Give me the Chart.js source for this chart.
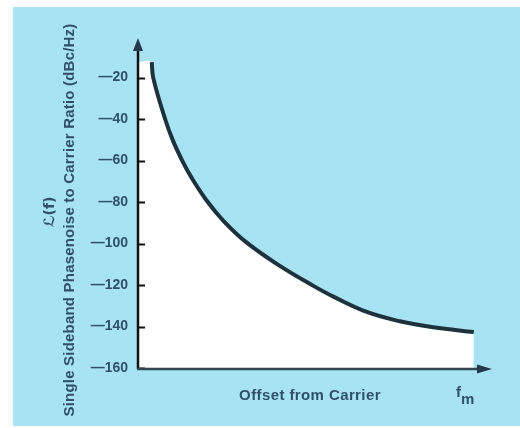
<!DOCTYPE html>
<html lang="en">
<head>
    <meta charset="UTF-8">
    <title>Phase noise</title>
    <script src="https://cdn.jsdelivr.net/npm/chart.js"></script>
    <style>
        body { margin: 0; background: #ffffff; }
        .panel { position: absolute; left: 13px; top: 7px; width: 507px; height: 419px; background: #a8e3f4; }
        #grafico { position: absolute; left: 0; top: 0; }
    </style>
</head>
<body>
    <div class="panel"></div>
    <canvas id="grafico" width="520" height="428"></canvas>

    <script>
        // offset from carrier (arbitrary linear units, 0..100) and L(f) in dBc/Hz
        const offsets = [3.9, 4.35, 7.7, 9.9, 12.7, 15.3, 19.6, 24.4, 30.9, 40.3, 49.7, 55.5, 65.0, 74.4, 83.9, 95.4];
        const noise = [-12.6, -20.3, -40, -50.3, -60.5, -68.5, -79.5, -89.3, -99.6, -110.8, -120.3, -125.6, -133, -137.5, -140.4, -142.7];
        const yTicks = [-20, -40, -60, -80, -100, -120, -140, -160];
        const yTitle = 'Single Sideband Phasenoise to Carrier Ratio (dBc/Hz)';
        const yTitle2 = 'ℒ(f)';
        const xTitle = 'Offset from Carrier';

        const textColor = '#30506a';

        const eixos = {
            id: 'eixos',
            afterDraw(chart) {
                const ctx = chart.ctx;
                const xs = chart.scales.x;
                const ys = chart.scales.y;
                const x0 = xs.getPixelForValue(0);
                const y0 = ys.getPixelForValue(-160);
                const yTop = ys.getPixelForValue(0) + 2;
                const xEnd = xs.getPixelForValue(100);
                ctx.save();

                // tick marks, inside the plot
                ctx.strokeStyle = '#111';
                ctx.lineWidth = 2;
                yTicks.forEach(v => {
                    const y = Math.round(ys.getPixelForValue(v)) + 0.5;
                    ctx.beginPath();
                    ctx.moveTo(x0, y);
                    ctx.lineTo(x0 + 7, y);
                    ctx.stroke();
                });

                // y axis
                ctx.lineWidth = 2.5;
                ctx.strokeStyle = '#111';
                ctx.beginPath();
                ctx.moveTo(x0, y0 + 1);
                ctx.lineTo(x0, yTop + 12);
                ctx.stroke();
                ctx.fillStyle = '#223a4c';
                ctx.beginPath();
                ctx.moveTo(x0, yTop);
                ctx.lineTo(x0 - 5, yTop + 13);
                ctx.lineTo(x0 + 5, yTop + 13);
                ctx.closePath();
                ctx.fill();

                // x axis
                ctx.strokeStyle = '#33464f';
                ctx.beginPath();
                ctx.moveTo(x0 - 1, y0 + 1);
                ctx.lineTo(xEnd - 13, y0 + 1);
                ctx.stroke();
                ctx.fillStyle = '#223a4c';
                ctx.beginPath();
                ctx.moveTo(xEnd + 2, y0 + 1);
                ctx.lineTo(xEnd - 13, y0 - 3.5);
                ctx.lineTo(xEnd - 13, y0 + 5.5);
                ctx.closePath();
                ctx.fill();

                // titles
                ctx.fillStyle = textColor;
                ctx.font = 'bold 15px "Liberation Sans", Arial, sans-serif';
                ctx.letterSpacing = '0.4px';
                ctx.textAlign = 'center';
                ctx.textBaseline = 'middle';
                ctx.fillText(xTitle, 310, 396);
                ctx.letterSpacing = '0px';
                ctx.textAlign = 'left';
                ctx.textBaseline = 'alphabetic';
                ctx.fillText('f', 456, 397);
                ctx.fillText('m', 461, 404);

                ctx.save();
                ctx.translate(70, 220);
                ctx.rotate(-Math.PI / 2);
                ctx.textAlign = 'center';
                ctx.textBaseline = 'middle';
                ctx.letterSpacing = '0.2px';
                ctx.fillText(yTitle, 0, 0);
                ctx.restore();

                ctx.save();
                ctx.translate(50, 212);
                ctx.rotate(-Math.PI / 2);
                ctx.textAlign = 'center';
                ctx.textBaseline = 'middle';
                ctx.font = 'bold 14px "DejaVu Sans", sans-serif';
                ctx.fillText(yTitle2, 0, 0);
                ctx.restore();

                ctx.restore();
            }
        };

        const pontos = offsets.map((x, i) => ({ x: x, y: noise[i] }));
        // white area under the curve reaches back to the y axis
        const area = [{ x: 0, y: noise[0] }].concat(pontos);

        new Chart(document.getElementById('grafico'), {
            type: 'line',
            data: {
                datasets: [{
                    data: pontos,
                    borderColor: '#1e323e',
                    borderWidth: 4,
                    borderCapStyle: 'butt',
                    fill: false,
                    pointRadius: 0,
                    tension: 0.4
                }, {
                    data: area,
                    borderWidth: 0,
                    borderColor: 'rgba(0,0,0,0)',
                    backgroundColor: '#ffffff',
                    fill: 'start',
                    pointRadius: 0,
                    tension: 0.4
                }]
            },
            options: {
                responsive: false,
                animation: false,
                layout: { padding: { top: 36, right: 30, bottom: 60, left: 0 } },
                plugins: {
                    legend: { display: false },
                    tooltip: { enabled: false }
                },
                scales: {
                    x: {
                        type: 'linear',
                        min: 0,
                        max: 100,
                        display: false
                    },
                    y: {
                        min: -160,
                        max: 0,
                        afterFit: s => { s.width = 138; },
                        afterBuildTicks: s => { s.ticks = yTicks.map(v => ({ value: v })); },
                        border: { display: false },
                        grid: { display: false, drawTicks: false },
                        ticks: {
                            padding: 10,
                            color: textColor,
                            font: { family: '"Liberation Sans", Arial, sans-serif', size: 14, weight: 'bold' },
                            callback: v => '—' + Math.abs(v)
                        }
                    }
                }
            },
            plugins: [eixos]
        });
    </script>
</body>
</html>
